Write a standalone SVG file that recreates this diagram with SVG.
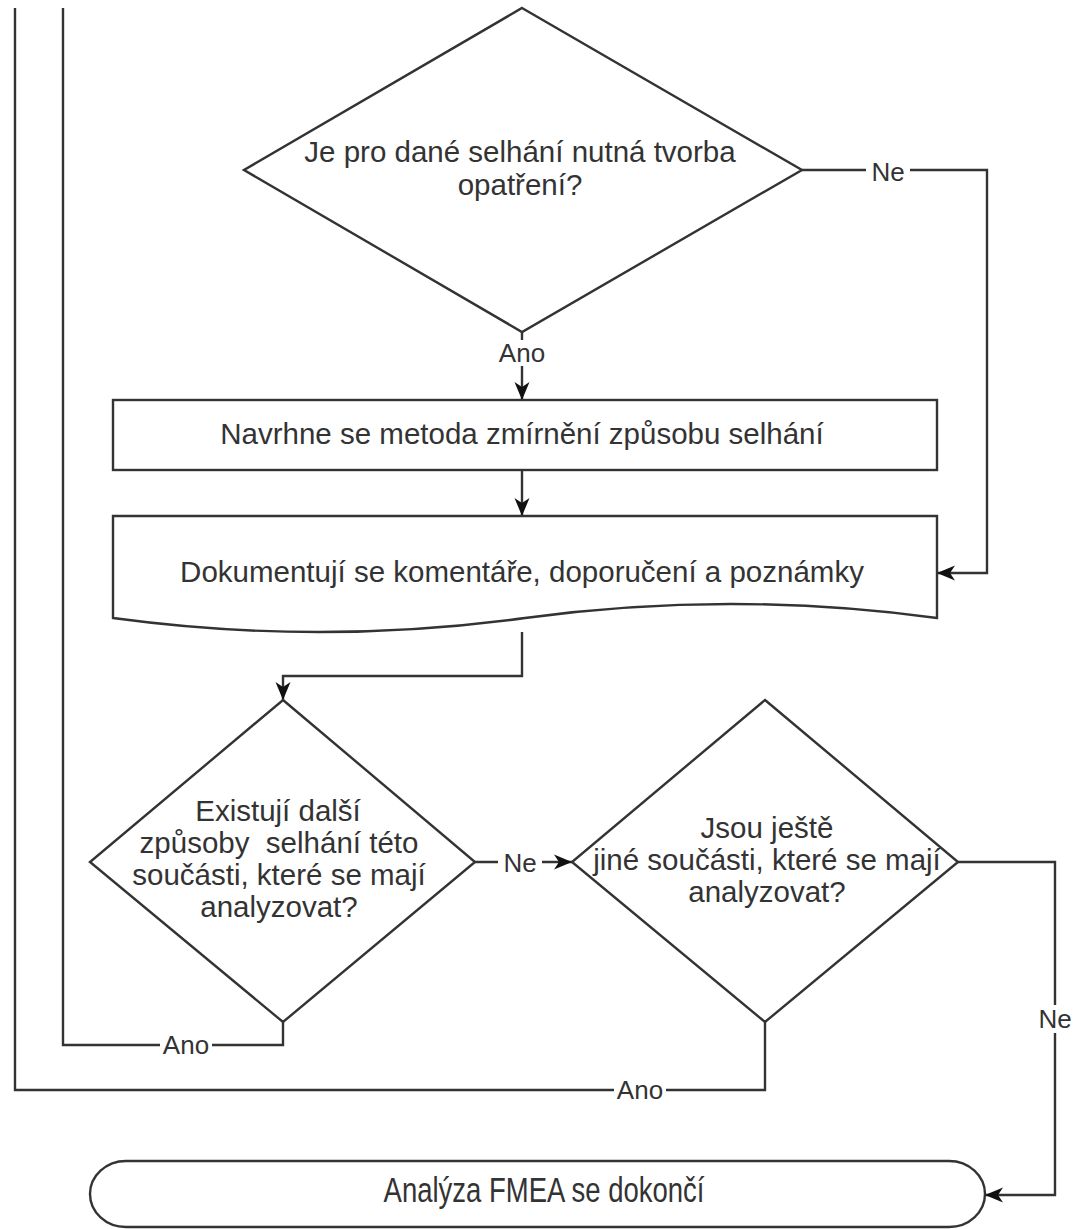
<svg xmlns="http://www.w3.org/2000/svg" width="1074" height="1229" viewBox="0 0 1074 1229">
<style>
.shape{fill:#fff;stroke:#333;stroke-width:2.4}
.line{fill:none;stroke:#333;stroke-width:2.4}
.t{font-family:"Liberation Sans",Arial,sans-serif;font-size:29.5px;fill:#333;text-anchor:middle}
.lbl{font-family:"Liberation Sans",Arial,sans-serif;font-size:26px;fill:#333;text-anchor:middle}
.bg{fill:#fff}
</style>
<defs>
<marker id="arr" markerUnits="userSpaceOnUse" markerWidth="18" markerHeight="18" refX="18" refY="9" orient="auto">
<path d="M0,1.5 L18,9 L0,16.5 L5,9 Z" fill="#111"/>
</marker>
</defs>
<rect width="1074" height="1229" fill="#fff"/>
<g id="connectors">
<path class="line" d="M522,332 V400" marker-end="url(#arr)"/>
<path class="line" d="M802,170 H987 V573 H937" marker-end="url(#arr)"/>
<path class="line" d="M522,470 V516" marker-end="url(#arr)"/>
<path class="line" d="M522,632 V676 H283 V700" marker-end="url(#arr)"/>
<path class="line" d="M475,862 H572" marker-end="url(#arr)"/>
<path class="line" d="M958,862 H1055 V1195 H985" marker-end="url(#arr)"/>
<path class="line" d="M283,1022 V1045 H63 V8"/>
<path class="line" d="M765,1022 V1090 H15 V8"/>
<rect class="bg" x="498" y="340" width="48" height="26"/>
<text class="lbl" x="522" y="362">Ano</text>
<rect class="bg" x="866" y="157" width="44" height="28"/>
<text class="lbl" x="888" y="181">Ne</text>
<rect class="bg" x="498" y="849" width="44" height="28"/>
<text class="lbl" x="520" y="872">Ne</text>
<rect class="bg" x="1033" y="1005" width="44" height="28"/>
<text class="lbl" x="1055" y="1028">Ne</text>
<rect class="bg" x="160" y="1032" width="52" height="28"/>
<text class="lbl" x="186" y="1054">Ano</text>
<rect class="bg" x="614" y="1077" width="52" height="28"/>
<text class="lbl" x="640" y="1099">Ano</text>
</g>
<g id="node-decision1">
<polygon class="shape" points="522,8 802,170 522,332 244,170"/>
<text class="t" x="520" y="162">Je pro dané selhání nutná tvorba</text>
<text class="t" x="520" y="195">opatření?</text>
</g>
<g id="node-process1">
<rect class="shape" x="113" y="400" width="824" height="70"/>
<text class="t" x="522" y="444">Navrhne se metoda zmírnění způsobu selhání</text>
</g>
<g id="node-document">
<path class="shape" d="M113,516 H937 V618 Q731,590 525,618 Q319,646 113,618 Z"/>
<text class="t" x="522" y="582">Dokumentují se komentáře, doporučení a poznámky</text>
</g>
<g id="node-decision2">
<polygon class="shape" points="283,700 475,862 283,1022 90,862"/>
<text class="t" x="278" y="821">Existují další</text>
<text class="t" x="279" y="853" xml:space="preserve">způsoby  selhání této</text>
<text class="t" x="279" y="885">součásti, které se mají</text>
<text class="t" x="279" y="917">analyzovat?</text>
</g>
<g id="node-decision3">
<polygon class="shape" points="765,700 958,862 765,1022 572,862"/>
<text class="t" x="767" y="838">Jsou ještě</text>
<text class="t" x="767" y="870">jiné součásti, které se mají</text>
<text class="t" x="767" y="902">analyzovat?</text>
</g>
<g id="node-terminal">
<rect class="shape" x="90" y="1161" width="895" height="66" rx="36" ry="33"/>
<text class="t" transform="translate(544,1202) scale(1,1.27)" x="0" y="0" style="font-size:27.5px">Analýza FMEA se dokončí</text>
</g>
</svg>
